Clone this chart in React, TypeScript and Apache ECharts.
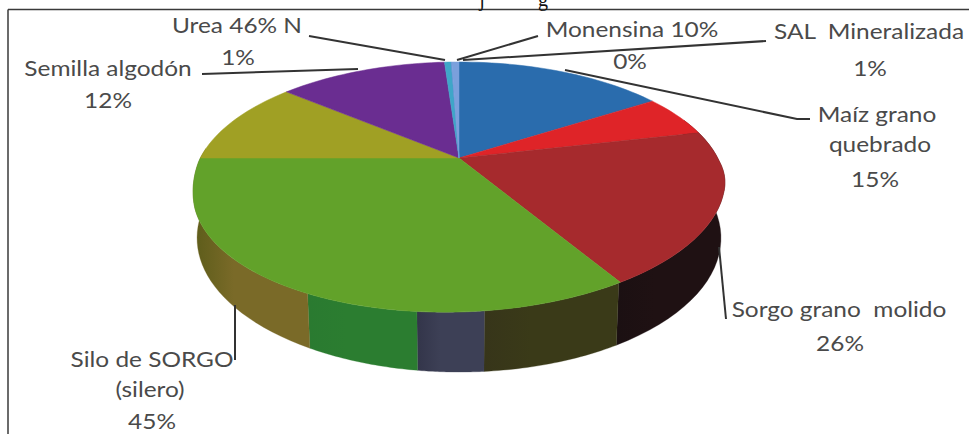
import React, { useEffect, useRef } from "react";
import * as echarts from "echarts";

// Top-surface slices (percent of the circle, clockwise from 12 o'clock)
const sliceNames = ["Maíz grano quebrado", "Sorgo (a)", "Sorgo grano molido", "Silo de SORGO (silero)", "Silo (b)", "Semilla algodón", "Urea 46% N", "Monensina 10%", "SAL Mineralizada"];
const sliceValues = [15.9, 5.5, 20.3, 33.3, 11.1, 12.8, 0.5, 0.05, 0.55];
const sliceColors = ["#2a6cad", "#df2428", "#a62a2d", "#62a22a", "#a0a024", "#6a2d91", "#3fa6c8", "#5f8fd0", "#7ba0dc"];

// Side wall bands (percent, starting at wallStart)
const wallStart = 19.4;
const wallValues = [22.4, 7, 3.2, 5.7, 18.6];
const wallColors = [
  ["#1b1012", "#1f1113"],
  ["#37351a", "#3a3a18"],
  ["#33354a", "#3d4056"],
  ["#2a7a30", "#2b7d30"],
  ["#5c5c1a", "#7a6a28"],
];

const labelTexts = [
  "Urea 46% N", "1%", "Semilla algodón", "12%", "Monensina 10%", "0%", "SAL  Mineralizada", "1%",
  "Maíz grano", "quebrado", "15%", "Sorgo grano  molido", "26%", "Silo de SORGO", "(silero)", "45%",
];

const FONT = "Lato, 'Open Sans', sans-serif";

// projective map of a circle to the tilted disc
const CX = 459, APEX_Y = 158, K = 0.232, A = 258.7, B = 118.3, TILT = 0.025;
const MID_Y = 187, RY = 125, BOTTOM_RX_SCALE = 262 / 266, BOTTOM_CY = 238, BOTTOM_RY_SCALE = 134 / RY;
function rim(pct: number, bottom = false): number[] {
  const t = (pct / 100) * Math.PI * 2;
  const x = Math.sin(t), y = -Math.cos(t);
  const w = 1 - K * y;
  const X = (A * x) / w;
  const Y = APEX_Y + (B * y) / w;
  if (bottom) return [CX + X * BOTTOM_RX_SCALE, BOTTOM_CY + (Y - MID_Y) * BOTTOM_RY_SCALE];
  const f = Math.min(1, Math.max(0, (Y - 160) / 40));
  return [CX + X, Y - TILT * X * f];
}
function cumulate(values: number[], start: number) {
  let c = start;
  return values.map((v) => { const r = [c, c + v]; c += v; return r; });
}

export default function App() {
  const ref = useRef<HTMLDivElement>(null);
  useEffect(() => {
    document.body.style.margin = "0";
    const chart = echarts.init(ref.current!, undefined, { renderer: "svg" });
    const pos: [number, number][] = [
      [237, 24], [238, 56], [108, 67], [108, 99], [632, 28], [630, 60], [869, 30], [870, 67],
      [877, 113], [880, 143], [875, 178], [839, 308], [840, 342], [152, 358], [150, 388], [152, 420],
    ];
    const leaders = [
      [[309, 36], [445, 60]],
      [[538, 36], [457, 60]],
      [[766, 41], [463, 60]],
      [[202, 74], [358, 69]],
      [[565, 70], [797, 119], [810, 119]],
      [[719, 247], [726, 319]],
      [[235, 305], [235, 360]],
    ];
    chart.setOption({
      animation: false,
      backgroundColor: "#ffffff",
      graphic: [
        { type: "line", shape: { x1: 8, y1: 9.5, x2: 969, y2: 9.5 }, style: { stroke: "#3a3a3a", lineWidth: 1.5 } },
        { type: "line", shape: { x1: 8, y1: 9.5, x2: 8, y2: 434 }, style: { stroke: "#3a3a3a", lineWidth: 1.5 } },
        { type: "text", style: { text: "j", x: 482, y: -11, fill: "#111", font: "20px 'Liberation Serif'", textAlign: "center" } },
        { type: "text", style: { text: "g", x: 543, y: -11, fill: "#111", font: "20px 'Liberation Serif'", textAlign: "center" } },
        ...leaders.map((pts) => ({ type: "polyline", z: 10, shape: { points: pts }, style: { stroke: "#333333", lineWidth: 2, fill: "none" } })),
        ...labelTexts.map((t, i) => ({
          type: "text", z: 11, x: pos[i][0], y: pos[i][1], scaleX: 1.11,
          style: { text: t, x: 0, y: 0, fill: "#4a4a4a", font: `22px ${FONT}`, textAlign: "center", textVerticalAlign: "middle" },
        })),
      ],
      series: [
        {
          type: "custom", coordinateSystem: "none", silent: true, z: 1,
          data: cumulate(wallValues, wallStart),
          renderItem: (p: any, api: any) => {
            const s = api.value(0), e = api.value(1);
            const pts: number[][] = [];
            for (let i = 0; i <= 30; i++) pts.push(rim(s + ((e - s) * i) / 30));
            for (let i = 30; i >= 0; i--) pts.push(rim(s + ((e - s) * i) / 30, true));
            const [c0, c1] = wallColors[p.dataIndex];
            const fill = new echarts.graphic.LinearGradient(0, 0, 1, 0, [
              { offset: 0, color: c0 }, { offset: 0.35, color: c1 }, { offset: 1, color: c1 },
            ]);
            return { type: "polygon", shape: { points: pts }, style: { fill, stroke: c1, lineWidth: 0.3 } };
          },
        },
        {
          type: "custom", coordinateSystem: "none", silent: true, z: 2,
          data: cumulate(sliceValues, 0).map((r, i) => ({ name: sliceNames[i], value: r })),
          renderItem: (p: any, api: any) => {
            const s = api.value(0), e = api.value(1);
            const pts: number[][] = [[CX, APEX_Y]];
            const n = Math.max(2, Math.ceil((e - s) * 2));
            for (let i = 0; i <= n; i++) pts.push(rim(s + ((e - s) * i) / n));
            return { type: "polygon", shape: { points: pts }, style: { fill: sliceColors[p.dataIndex], stroke: sliceColors[p.dataIndex], lineWidth: 0.5 } };
          },
        },
      ],
    });
    return () => chart.dispose();
  }, []);
  return <div ref={ref} style={{ position: "absolute", left: 0, top: 0, width: 969, height: 434 }} />;
}
